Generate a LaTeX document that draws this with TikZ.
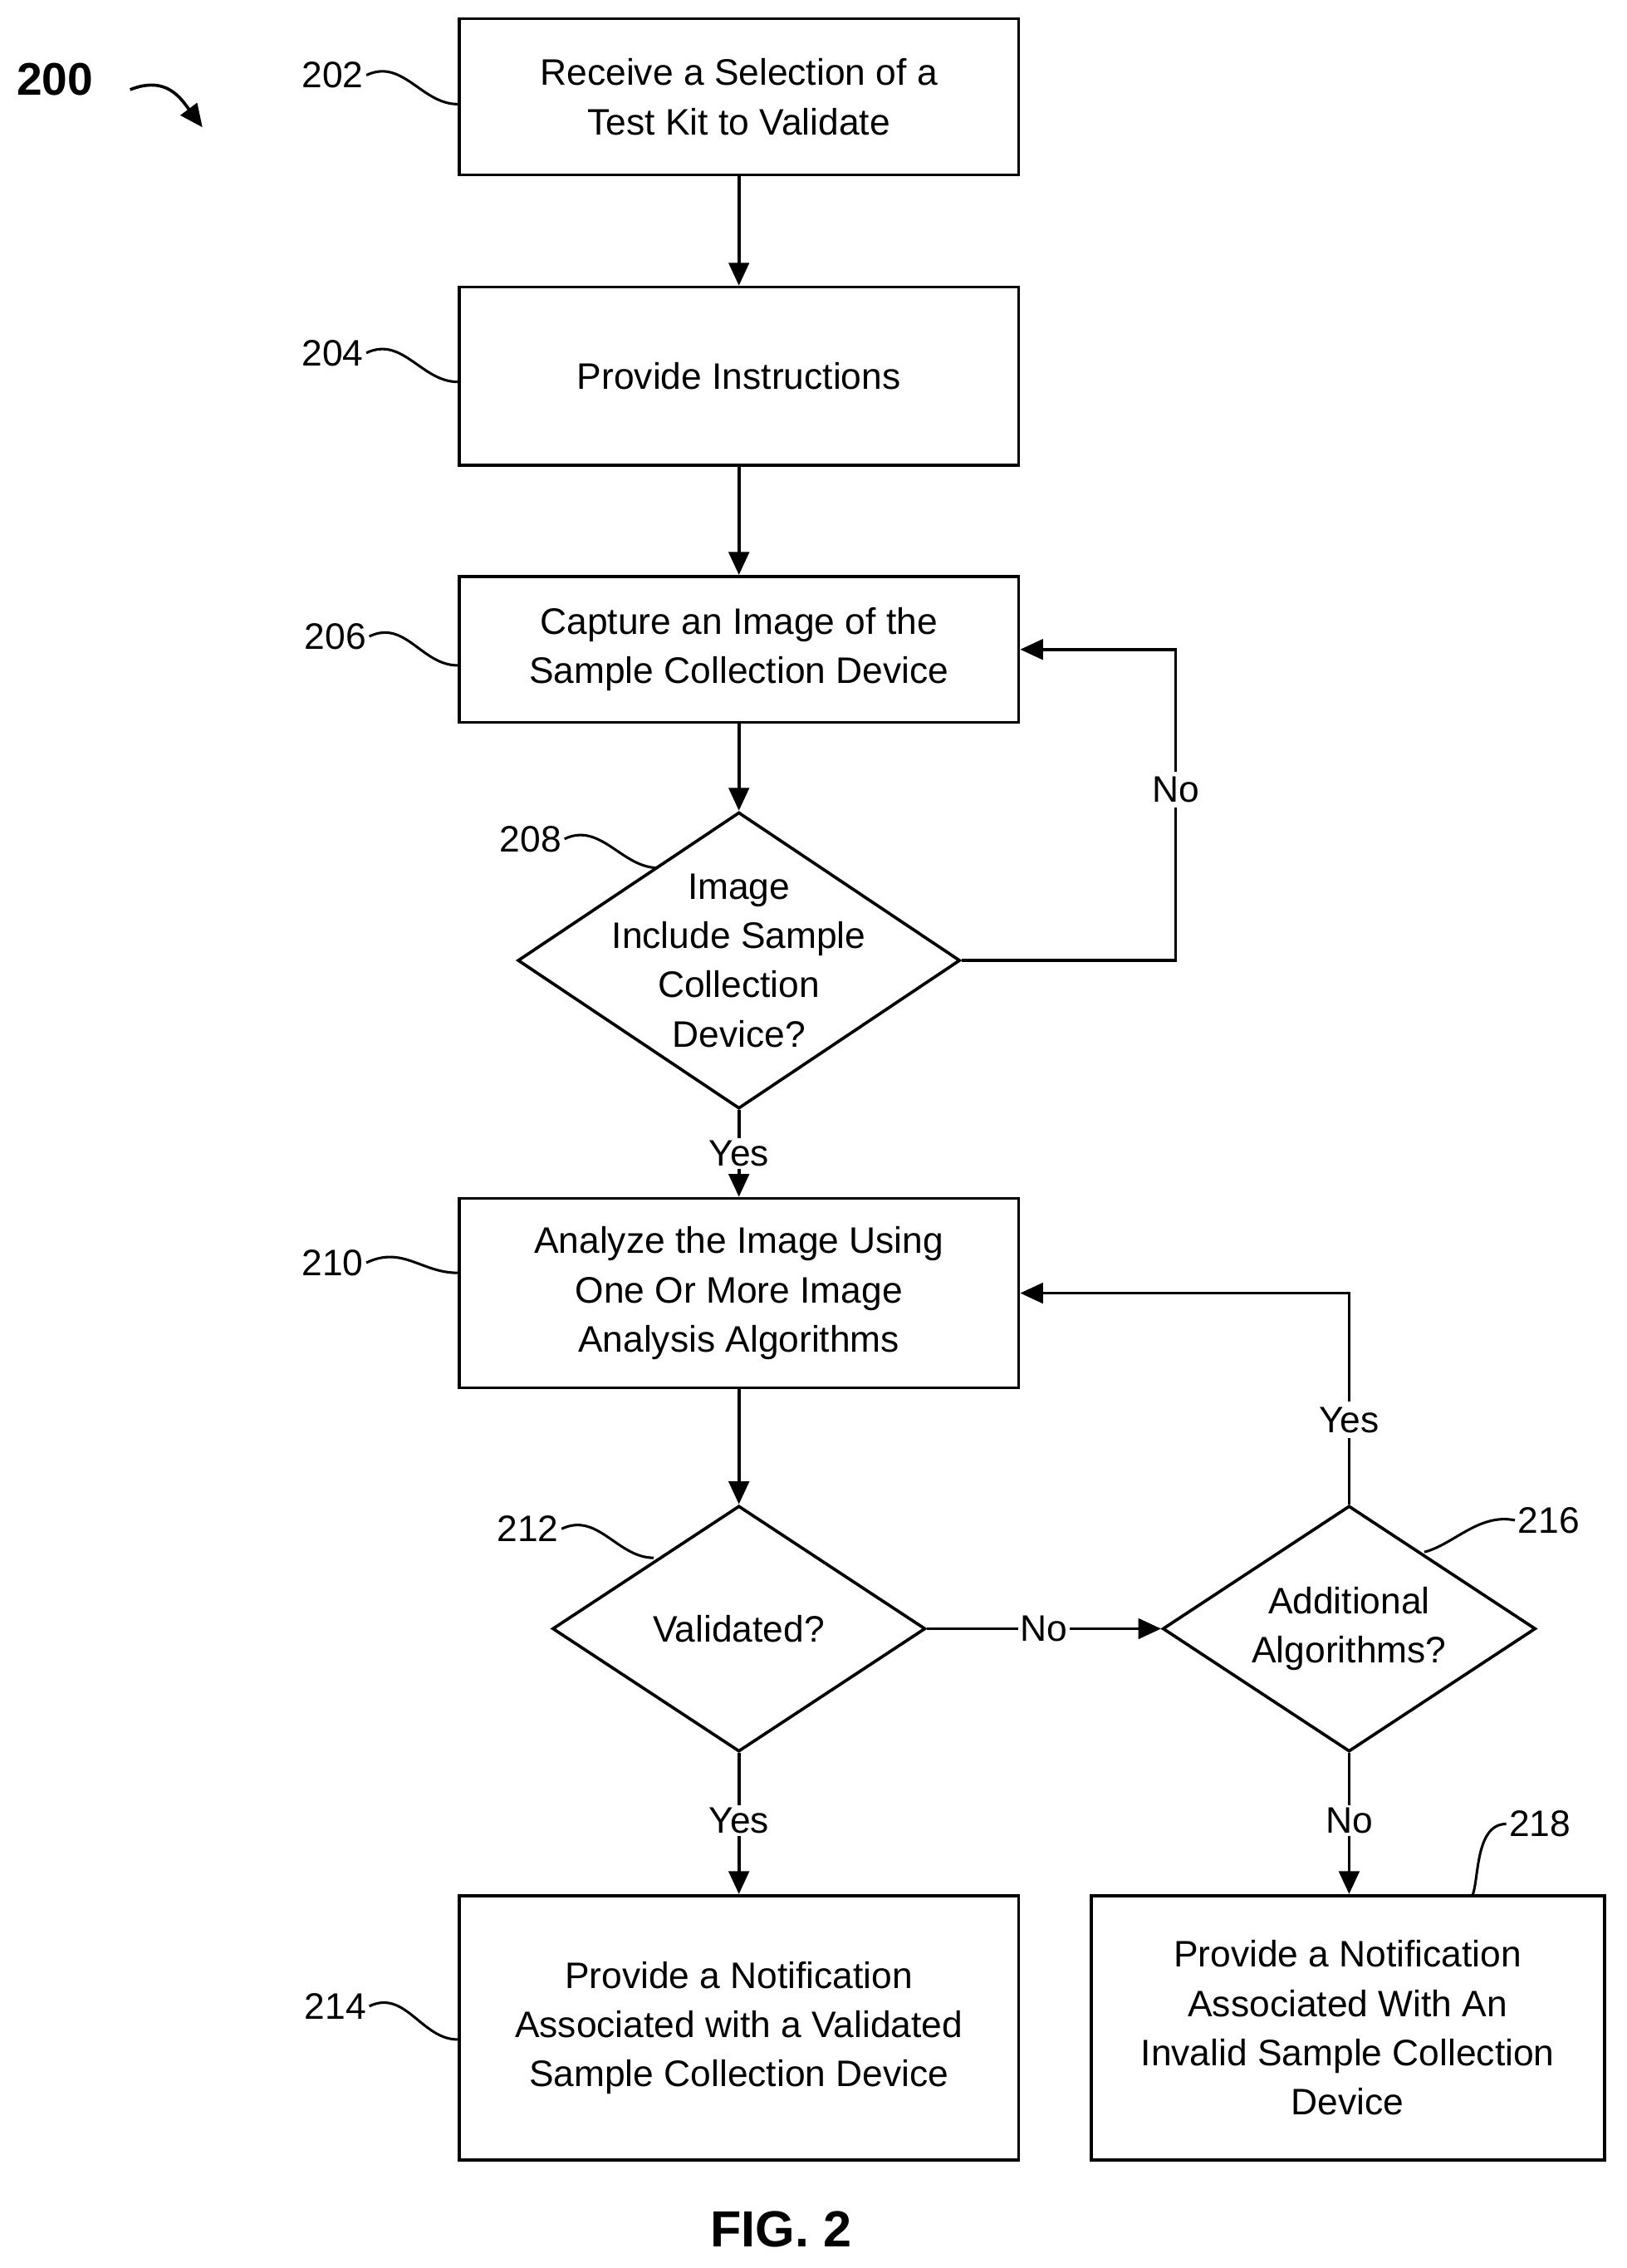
\documentclass[tikz,border=0pt]{standalone}
\usepackage{fontspec}
\setmainfont{Liberation Sans}
\usetikzlibrary{shapes.geometric,arrows.meta}
\tikzset{
  box/.style={draw, line width=1.2pt, minimum width=7.74cm, align=center, inner sep=0pt},
  dia/.style={draw, diamond, line width=1.2pt, inner sep=0pt},
  flow/.style={line width=1.2pt, -{Triangle[length=9pt,width=8pt]}},
  lead/.style={line width=1pt},
  refn/.style={inner sep=1pt}
}
\begin{document}
\begin{tikzpicture}[x=0.02cm, y=-0.02cm, font=\fontsize{14.5pt}{19.4pt}\selectfont]
\useasboundingbox (0,0) rectangle (1125,1568);
% boxes
\node[box, minimum height=2.16cm] (b202) at (511,67) {Receive a Selection of a\\Test Kit to Validate};
\node[box, minimum height=2.46cm] (b204) at (511,260) {Provide Instructions};
\node[box, minimum height=2.02cm] (b206) at (511,449) {Capture an Image of the\\Sample Collection Device};
\node[dia, minimum width=6.12cm, minimum height=4.1cm,
  label={[align=center]center:Image\\Include Sample\\Collection\\Device?}] (d208) at (511,664) {};
\node[box, minimum height=2.62cm] (b210) at (511,894) {Analyze the Image Using\\One Or More Image\\Analysis Algorithms};
\node[dia, minimum width=5.16cm, minimum height=3.4cm,
  label={center:Validated?}] (d212) at (511,1126) {};
\node[dia, minimum width=5.16cm, minimum height=3.4cm,
  label={[align=center]center:Additional\\Algorithms?}] (d216) at (933,1126) {};
\node[box, minimum height=3.66cm] (b214) at (511,1402) {Provide a Notification\\Associated with a Validated\\Sample Collection Device};
\node[box, minimum width=7.1cm, minimum height=3.66cm] (b218) at (932,1402) {Provide a Notification\\Associated With An\\Invalid Sample Collection\\Device};
% connectors
\draw[flow] (b202) -- (b204);
\draw[flow] (b204) -- (b206);
\draw[flow] (b206) -- (d208);
\draw[flow] (d208) -- node[fill=white, inner sep=1pt] {Yes} (b210);
\draw[flow] (d208.east) -- (813,664) -- node[fill=white, inner sep=2pt, pos=0.55] {No} (813,449) -- (b206.east);
\draw[flow] (b210) -- (d212);
\draw[flow] (d212) -- node[fill=white, inner sep=1pt] {No} (d216);
\draw[flow] (d212) -- node[fill=white, inner sep=1pt, pos=0.48] {Yes} (b214);
\draw[flow] (d216) -- node[fill=white, inner sep=1pt, pos=0.48] {No} (b218.north-|d216);
\draw[flow] (d216.north) -- node[fill=white, inner sep=2pt, pos=0.4] {Yes} (933,894) -- (b210.east);
% reference numbers
\node[refn] (l202) at (230,52) {202};
\node[refn] (l204) at (230,244) {204};
\node[refn] (l206) at (232,440) {206};
\node[refn] (l208) at (367,580) {208};
\node[refn] (l210) at (230,873) {210};
\node[refn] (l212) at (365,1057) {212};
\node[refn] (l214) at (232,1387) {214};
\node[refn] (l216) at (1071,1051) {216};
\node[refn] (l218) at (1065,1261) {218};
\coordinate (p208) at (455,600);
\coordinate (p212) at (452,1077);
\coordinate (p216) at (985,1073);
\coordinate (p218) at (1018,1311);
\draw[lead] (l202.east) .. controls +(25,-12) and +(-25,0) .. (b202.west|-0,72);
\draw[lead] (l204.east) .. controls +(25,-12) and +(-25,0) .. (b204.west|-0,264);
\draw[lead] (l206.east) .. controls +(25,-12) and +(-25,0) .. (b206.west|-0,460);
\draw[lead] (l208.east) .. controls +(25,-12) and +(-25,0) .. (p208);
\draw[lead] (l210.east) .. controls +(25,-12) and +(-25,0) .. (b210.west|-0,880);
\draw[lead] (l212.east) .. controls +(25,-12) and +(-25,0) .. (p212);
\draw[lead] (l214.east) .. controls +(25,-12) and +(-25,0) .. (b214.west|-0,1410);
\draw[lead] (l216.west) .. controls +(-25,-5) and +(20,-5) .. (p216);
\draw[lead] (l218.west) .. controls +(-22,0) and +(5,-10) .. (p218);
% figure number and caption
\node[font=\fontsize{18pt}{20pt}\selectfont\bfseries] (n200) at (38,55) {200};
\coordinate (a200) at (140,88);
\draw[line width=1.2pt, -{Triangle[length=9pt,width=8pt]}] (90,62) .. controls +(25,-10) and +(-15,-20) .. (a200);
\node[font=\fontsize{20pt}{22pt}\selectfont\bfseries] (fig) at (540,1541) {FIG. 2};
\end{tikzpicture}
\end{document}
